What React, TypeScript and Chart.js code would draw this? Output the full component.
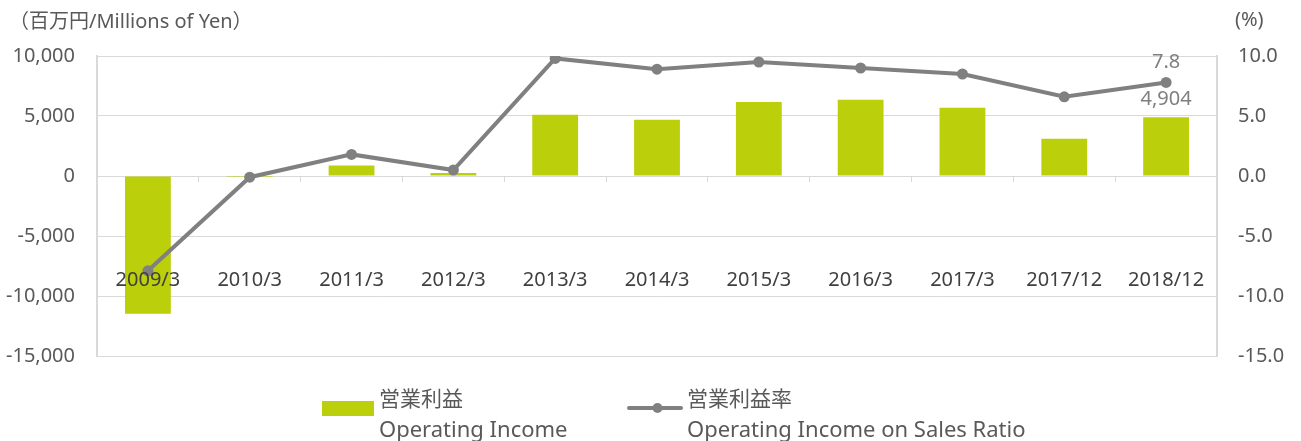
import React, { useEffect, useRef } from 'react';
import { Chart, registerables } from 'chart.js';

Chart.register(...registerables);

const categories = ['2009/3', '2010/3', '2011/3', '2012/3', '2013/3', '2014/3', '2015/3', '2016/3', '2017/3', '2017/12', '2018/12'];
const operatingIncome = [-11480, -90, 880, 250, 5110, 4690, 6170, 6360, 5690, 3110, 4904];
const incomeRatio = [-7.9, -0.1, 1.8, 0.5, 9.8, 8.9, 9.5, 9.0, 8.5, 6.6, 7.8];
const seriesNamesJa = ['営業利益', '営業利益率'];
const seriesNamesEn = ['Operating Income', 'Operating Income on Sales Ratio'];
const leftUnit = '（百万円/Millions of Yen）';
const rightUnit = '(%)';

const FONT = "'Noto Sans', 'Noto Sans CJK JP', sans-serif";
const BAR_COLOR = '#bbcf0b';
const LINE_COLOR = '#808080';
const GRID = '#d9d9d9';
const TEXT = '#595959';

const extrasPlugin = {
  id: 'extras',
  afterDraw(chart: any) {
    const ctx = chart.ctx;
    ctx.save();
    ctx.font = `20px ${FONT}`;
    ctx.fillStyle = TEXT;
    ctx.textBaseline = 'middle';
    ctx.textAlign = 'left';
    ctx.fillText(leftUnit, 9, 22);
    ctx.fillText(rightUnit, 1235, 20);

    // data labels on last point
    const last = categories.length - 1;
    const barEl = chart.getDatasetMeta(0).data[last];
    const lineEl = chart.getDatasetMeta(1).data[last];
    ctx.textAlign = 'center';
    ctx.fillStyle = '#7f7f7f';
    ctx.fillText(incomeRatio[last].toFixed(1), lineEl.x, lineEl.y - 20);
    ctx.fillText(operatingIncome[last].toLocaleString('en-US'), barEl.x, barEl.y - 18);

    // legend
    ctx.textAlign = 'left';
    ctx.fillStyle = BAR_COLOR;
    ctx.fillRect(322, 401, 52, 15);
    ctx.strokeStyle = LINE_COLOR;
    ctx.lineWidth = 4;
    ctx.lineCap = 'round';
    ctx.beginPath();
    ctx.moveTo(629, 408);
    ctx.lineTo(681, 408);
    ctx.stroke();
    ctx.fillStyle = LINE_COLOR;
    ctx.beginPath();
    ctx.arc(657.5, 408, 5, 0, Math.PI * 2);
    ctx.fill();

    ctx.fillStyle = TEXT;
    ctx.font = `21px ${FONT}`;
    ctx.fillText(seriesNamesJa[0], 379, 400);
    ctx.fillText(seriesNamesJa[1], 687, 400);
    ctx.font = `22px ${FONT}`;
    ctx.fillText(seriesNamesEn[0], 379, 431);
    ctx.fillText(seriesNamesEn[1], 687, 431);
    ctx.restore();
  },
};

export default function App() {
  const ref = useRef<HTMLCanvasElement>(null);
  useEffect(() => {
    document.body.style.margin = '0';
    const chart = new Chart(ref.current!, {
      type: 'bar',
      data: {
        labels: categories,
        datasets: [
          {
            type: 'bar',
            label: seriesNamesEn[0],
            data: operatingIncome,
            backgroundColor: BAR_COLOR,
            yAxisID: 'y',
            barPercentage: 0.45,
            categoryPercentage: 1,
            order: 2,
          },
          {
            type: 'line',
            label: seriesNamesEn[1],
            data: incomeRatio,
            borderColor: LINE_COLOR,
            backgroundColor: LINE_COLOR,
            borderWidth: 4,
            pointRadius: 5.5,
            pointBackgroundColor: LINE_COLOR,
            pointBorderWidth: 0,
            yAxisID: 'y1',
            order: 1,
          } as any,
        ],
      },
      options: {
        animation: false,
        responsive: true,
        maintainAspectRatio: false,
        layout: { padding: { top: 56, bottom: 85, left: 0, right: 0 } },
        plugins: { legend: { display: false }, tooltip: { enabled: false } },
        scales: {
          x: {
            position: { y: 0 } as any,
            grid: { display: true, drawOnChartArea: false, drawTicks: true, tickLength: 6, color: GRID },
            border: { display: false },
            ticks: { z: 1, color: '#404040', font: { family: FONT, size: 20 }, padding: 86, maxRotation: 0 } as any,
          },
          y: {
            position: 'left',
            min: -15000,
            max: 10000,
            ticks: {
              stepSize: 5000,
              color: TEXT,
              font: { family: FONT, size: 20 },
              padding: 22,
              callback: (v: any) => Number(v).toLocaleString('en-US'),
            },
            grid: { color: GRID, drawTicks: false, lineWidth: 1 },
            border: { display: true, color: GRID, width: 2 },
            afterFit: (s: any) => { s.width = 97; },
          },
          y1: {
            position: 'right',
            min: -15,
            max: 10,
            ticks: {
              stepSize: 5,
              color: TEXT,
              font: { family: FONT, size: 20 },
              padding: 21,
              callback: (v: any) => Number(v).toFixed(1),
            },
            grid: { drawOnChartArea: false, drawTicks: false },
            border: { display: true, color: GRID, width: 2 },
            afterFit: (s: any) => { s.width = 84; },
          },
        },
      },
      plugins: [extrasPlugin],
    });
    return () => chart.destroy();
  }, []);
  return (
    <div style={{ position: 'relative', width: 1301, height: 441 }}>
      <canvas ref={ref} />
    </div>
  );
}
